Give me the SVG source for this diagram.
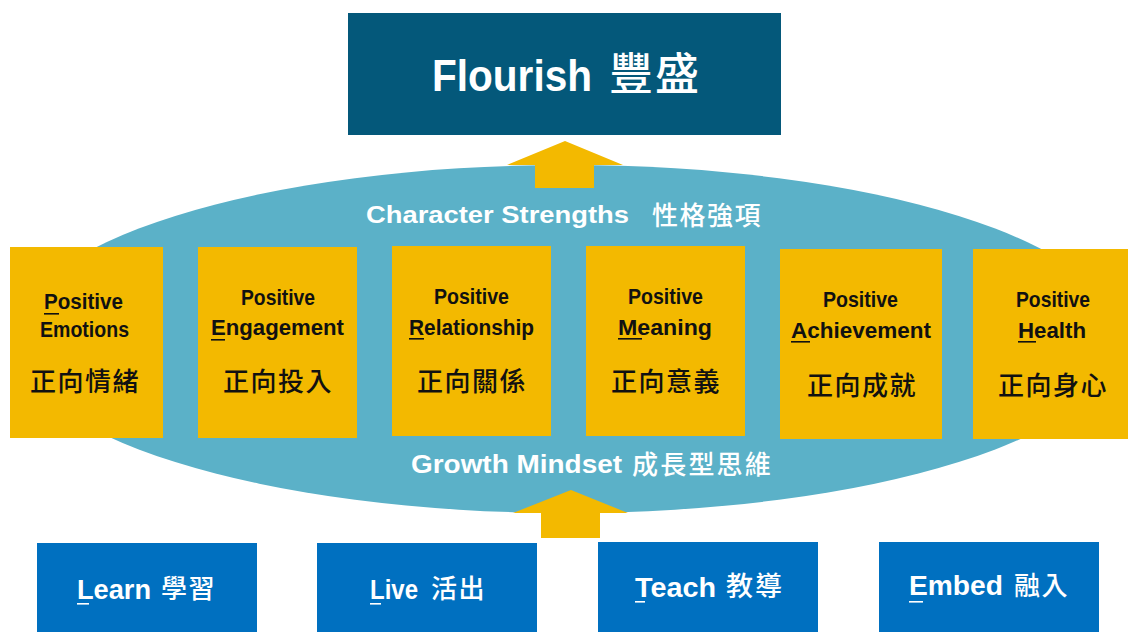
<svg xmlns="http://www.w3.org/2000/svg" width="1128" height="635" viewBox="0 0 1128 635">
<style>
.en{font-family:"Liberation Sans",Arial,sans-serif;font-weight:bold}
.cjk{font-family:"Noto Sans CJK TC","Noto Sans CJK SC",sans-serif;font-weight:500}
.w{fill:#ffffff}
.k{fill:#111111}
.ybox{fill:#F3B900}
.bbox{fill:#0070C0}
.ul{fill:#111111}
.ulw{fill:#ffffff}
.arrow{fill:#F3B900}
</style>
<rect width="1128" height="635" fill="#ffffff"/>

<g id="flourish">
<rect x="348" y="13" width="433" height="122" fill="#04587A"/>
<text class="en w" x="432" y="91" font-size="44" textLength="160" lengthAdjust="spacingAndGlyphs">Flourish</text>
<text class="cjk w" x="609" y="90" font-size="44" letter-spacing="2">豐盛</text>
</g>

<g id="strengths-ellipse">
<ellipse cx="567" cy="339" rx="554" ry="174" fill="#5BB1C8"/>
<text class="en w" x="366" y="223" font-size="23" textLength="263" lengthAdjust="spacingAndGlyphs">Character Strengths</text>
<text class="cjk w" x="652" y="225" font-size="26" letter-spacing="1.5">性格強項</text>
<text class="en w" x="411" y="473" font-size="25" textLength="211" lengthAdjust="spacingAndGlyphs">Growth Mindset</text>
<text class="cjk w" x="632" y="474" font-size="26" letter-spacing="2.2">成長型思維</text>
</g>

<g id="connectors">
<polygon class="arrow" points="565,141 623,165 594,165 594,188 535,188 535,165 507,165"/>
<polygon class="arrow" points="571,490 628,513 600,513 600,538 541,538 541,513 513,513"/>
</g>

<g id="positive-emotions">
<rect class="ybox" x="10" y="247" width="153" height="191"/>
<text class="en k" x="44" y="309" font-size="22" textLength="79" lengthAdjust="spacingAndGlyphs">Positive</text>
<rect class="ul" x="44" y="313" width="15" height="1.6"/>
<text class="en k" x="40" y="337" font-size="22" textLength="89" lengthAdjust="spacingAndGlyphs">Emotions</text>
<text class="cjk k" x="30" y="391" font-size="26" letter-spacing="1.5">正向情緒</text>
</g>

<g id="positive-engagement">
<rect class="ybox" x="198" y="247" width="159" height="191"/>
<text class="en k" x="241" y="305" font-size="22" textLength="74" lengthAdjust="spacingAndGlyphs">Positive</text>
<text class="en k" x="211" y="335" font-size="22" textLength="133" lengthAdjust="spacingAndGlyphs">Engagement</text>
<rect class="ul" x="211" y="339" width="14" height="1.6"/>
<text class="cjk k" x="223" y="391" font-size="26" letter-spacing="1.5">正向投入</text>
</g>

<g id="positive-relationship">
<rect class="ybox" x="392" y="246" width="159" height="190"/>
<text class="en k" x="434" y="304" font-size="22" textLength="75" lengthAdjust="spacingAndGlyphs">Positive</text>
<text class="en k" x="409" y="335" font-size="22" textLength="125" lengthAdjust="spacingAndGlyphs">Relationship</text>
<rect class="ul" x="409" y="338" width="15" height="1.6"/>
<text class="cjk k" x="417" y="391" font-size="26" letter-spacing="1.5">正向關係</text>
</g>

<g id="positive-meaning">
<rect class="ybox" x="586" y="246" width="159" height="190"/>
<text class="en k" x="628" y="304" font-size="22" textLength="75" lengthAdjust="spacingAndGlyphs">Positive</text>
<text class="en k" x="618" y="335" font-size="22" textLength="94" lengthAdjust="spacingAndGlyphs">Meaning</text>
<rect class="ul" x="618" y="338" width="24" height="1.6"/>
<text class="cjk k" x="611" y="391" font-size="26" letter-spacing="1.5">正向意義</text>
</g>

<g id="positive-achievement">
<rect class="ybox" x="780" y="249" width="162" height="190"/>
<text class="en k" x="823" y="307" font-size="22" textLength="75" lengthAdjust="spacingAndGlyphs">Positive</text>
<text class="en k" x="791" y="338" font-size="22" textLength="140" lengthAdjust="spacingAndGlyphs">Achievement</text>
<rect class="ul" x="791" y="341" width="19" height="1.6"/>
<text class="cjk k" x="807" y="395" font-size="26" letter-spacing="1.5">正向成就</text>
</g>

<g id="positive-health">
<rect class="ybox" x="973" y="249" width="155" height="190"/>
<text class="en k" x="1016" y="307" font-size="22" textLength="74" lengthAdjust="spacingAndGlyphs">Positive</text>
<text class="en k" x="1018" y="338" font-size="22" textLength="68" lengthAdjust="spacingAndGlyphs">Health</text>
<rect class="ul" x="1018" y="341" width="18" height="1.6"/>
<text class="cjk k" x="998" y="395" font-size="26" letter-spacing="1.5">正向身心</text>
</g>

<g id="learn">
<rect class="bbox" x="37" y="543" width="220" height="89"/>
<text class="en w" x="77" y="599" font-size="27" textLength="74" lengthAdjust="spacingAndGlyphs">Learn</text>
<rect class="ulw" x="77" y="603" width="12" height="1.6"/>
<text class="cjk w" x="161" y="598" font-size="26" letter-spacing="1.5">學習</text>
</g>

<g id="live">
<rect class="bbox" x="317" y="543" width="220" height="89"/>
<text class="en w" x="370" y="599" font-size="28" textLength="48" lengthAdjust="spacingAndGlyphs">Live</text>
<rect class="ulw" x="370" y="603" width="11" height="1.6"/>
<text class="cjk w" x="431" y="598" font-size="26" letter-spacing="1.5">活出</text>
</g>

<g id="teach">
<rect class="bbox" x="598" y="542" width="220" height="90"/>
<text class="en w" x="635" y="597" font-size="27" textLength="81" lengthAdjust="spacingAndGlyphs">Teach</text>
<rect class="ulw" x="635" y="601" width="10" height="1.6"/>
<text class="cjk w" x="726" y="596" font-size="27" letter-spacing="2">教導</text>
</g>

<g id="embed">
<rect class="bbox" x="879" y="542" width="220" height="90"/>
<text class="en w" x="909" y="595" font-size="27" textLength="94" lengthAdjust="spacingAndGlyphs">Embed</text>
<rect class="ulw" x="909" y="601" width="14" height="1.6"/>
<text class="cjk w" x="1014" y="595" font-size="26" letter-spacing="1.5">融入</text>
</g>
</svg>
